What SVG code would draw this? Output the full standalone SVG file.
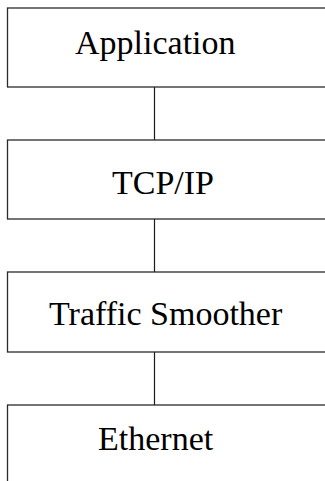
<svg xmlns="http://www.w3.org/2000/svg" width="325" height="481" viewBox="0 0 325 481">
<style>
.box{fill:#fff;stroke:#2a2a2a;stroke-width:1.3}
.lbl{font-size:34px;fill:#000}
.conn{stroke:#1a1a1a;stroke-width:1.2;fill:none}
</style>
<rect width="325" height="481" fill="#fff"/>
<g id="connectors">
<line class="conn" x1="154.5" y1="87" x2="154.5" y2="140"/>
<line class="conn" x1="154.5" y1="219" x2="154.5" y2="272"/>
<line class="conn" x1="154.5" y1="352" x2="154.5" y2="405"/>
</g>
<g font-family="'Liberation Serif', 'Times New Roman', 'DejaVu Serif', serif">
<g id="application">
<rect class="box" x="7.5" y="8" width="330" height="79"/>
<text class="lbl" x="75" y="54">Application</text>
</g>
<g id="tcpip">
<rect class="box" x="7.5" y="140" width="330" height="79"/>
<text class="lbl" x="112" y="194">TCP/IP</text>
</g>
<g id="traffic-smoother">
<rect class="box" x="7.5" y="272" width="330" height="80"/>
<text class="lbl" x="49" y="325">Traffic Smoother</text>
</g>
<g id="ethernet">
<rect class="box" x="7.5" y="405" width="330" height="90"/>
<text class="lbl" x="98" y="450">Ethernet</text>
</g>
</g>
</svg>
